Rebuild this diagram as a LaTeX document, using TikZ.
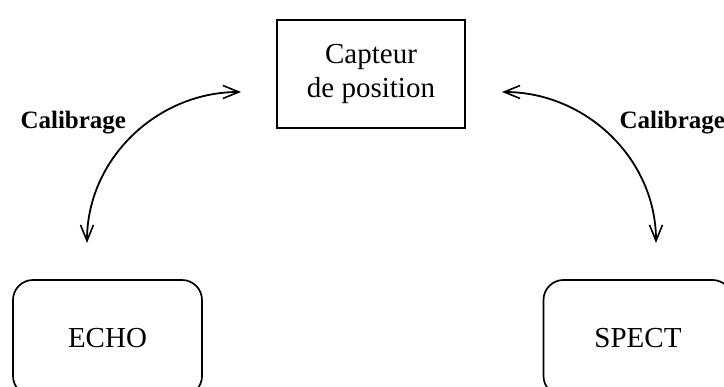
\documentclass[tikz,border=0pt]{standalone}
\usepackage{fontspec}
\setmainfont{Liberation Serif}
\usetikzlibrary{arrows.meta}
\begin{document}
\begin{tikzpicture}[x=1pt,y=-1pt,
  sq/.style={draw,line width=1.7pt,minimum width=188pt,minimum height=108pt,align=center,font=\fontsize{29}{34}\selectfont},
  rbox/.style={draw,line width=1.7pt,rounded corners=20pt,minimum width=189pt,minimum height=116pt,font=\fontsize{29}{34}\selectfont},
  lab/.style={font=\fontsize{25}{30}\selectfont\bfseries},
  conn/.style={line width=1.8pt,{Straight Barb[length=16pt,width=13pt,line width=1.6pt]}-{Straight Barb[length=16pt,width=13pt,line width=1.6pt]}}]
\useasboundingbox (0,0) rectangle (724,387);
\clip (0,0) rectangle (724,387);
\node[sq] (cap) at (371,74) {Capteur\\de position};
\node[rbox] (echo) at (107.5,338) {ECHO};
\node[rbox] (spect) at (638,338) {SPECT};
\node[lab,anchor=west] (l1) at (17,123) {Calibrage};
\node[lab,anchor=west] (l2) at (616,123) {Calibrage};
\coordinate (a1) at (241,92);
\coordinate (a2) at (87,243);
\coordinate (b1) at (502,92);
\coordinate (b2) at (656,243);
\draw[conn] (a1) .. controls ++(-84,0) and ++(0,-84) .. (a2);
\draw[conn] (b1) .. controls ++(84,0) and ++(0,-84) .. (b2);
\end{tikzpicture}
\end{document}
